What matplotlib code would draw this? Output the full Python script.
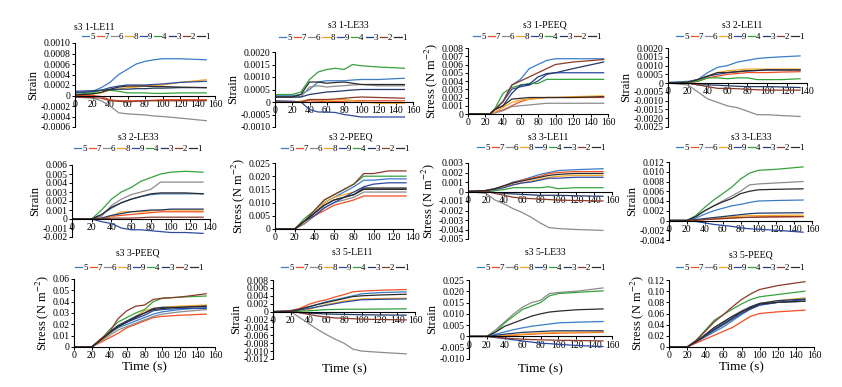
import numpy as np
import matplotlib
matplotlib.use("Agg")
import matplotlib.pyplot as plt
from matplotlib.ticker import FuncFormatter, MultipleLocator

plt.rcParams['font.family'] = ['Liberation Serif', 'DejaVu Serif']
plt.rcParams['mathtext.fontset'] = 'stix'

# legend order and colours of the nine gauges
series = ['5', '7', '6', '8', '9', '4', '3', '2', '1']
colors = ['#3a7dc9', '#f04e23', '#8c8c8c', '#f5a623', '#2e4a9e',
          '#35a23a', '#22396b', '#8b3a2a', '#2b2b2b']

# time samples (s)
t150 = [0, 20, 30, 40, 50, 60, 70, 80, 90, 100, 120, 150]
t133 = [0, 20, 30, 40, 50, 60, 70, 80, 90, 100, 115, 133]
t155 = [0, 25, 30, 40, 50, 60, 70, 80, 90, 100, 120, 155]

# s3 1-LE11 (x1e-4)
s1_le11 = [
    [0.5, 0.8, 1.5, 2.5, 4.0, 5.0, 6.0, 6.5, 6.8, 7.0, 7.0, 6.8],
    [0, 0, -0.2, -0.8, -1.0, -1.0, -1.0, -1.0, -0.9, -0.8, -0.8, -0.8],
    [-0.3, -0.5, -1.0, -2.0, -3.3, -3.5, -3.6, -3.7, -3.9, -4.0, -4.3, -4.8],
    [0.2, 0.3, 0.5, 1.0, 1.2, 1.5, 1.6, 1.8, 1.9, 2.0, 2.5, 3.0],
    [0.5, 0.7, 1.0, 1.5, 1.8, 2.0, 2.0, 2.0, 2.1, 2.2, 2.5, 2.7],
    [0.2, 0.5, 1.0, 1.0, 0.8, 0.5, 0.5, 0.5, 0.4, 0.4, 0.5, 0.5],
    [0.8, 0.9, 1.0, 1.1, 1.2, 1.2, 1.3, 1.3, 1.4, 1.4, 1.5, 1.5],
    [-0.3, -0.4, -0.5, -1.0, -1.1, -1.2, -1.1, -1.0, -1.0, -1.0, -1.0, -1.0],
    [0.1, 0.3, 0.6, 1.2, 1.6, 1.8, 1.8, 1.8, 1.7, 1.7, 1.6, 1.5],
]
# s3 1-LE33 (x1e-4)
s1_le33 = [
    [2.5, 2.5, 3.0, 5.0, 8.0, 8.5, 8.5, 8.5, 8.8, 9.0, 9.0, 9.5],
    [0, 0, 0.2, 0.5, 0.3, 0, 0.2, 0.3, 0.5, 0.5, 0.5, 0.5],
    [2.0, 2.0, 2.0, 6.0, 6.5, 6.0, 6.3, 6.5, 6.8, 7.0, 6.5, 6.5],
    [0, 0, 0.3, 1.0, 0.8, 0.5, 0.8, 1.0, 0.5, 0, -0.5, -0.5],
    [0.5, 0.3, 0, -3.0, -4.0, -4.0, -4.2, -5.0, -5.5, -6.0, -6.0, -6.0],
    [3.0, 3.0, 4.0, 9.0, 12.0, 13.0, 13.5, 13.0, 15.0, 14.5, 14.0, 13.5],
    [2.0, 2.0, 2.0, 3.0, 3.5, 4.0, 4.2, 4.5, 4.8, 5.0, 5.0, 5.0],
    [0, 0, 0, 1.0, 1.0, 1.0, 1.2, 1.5, 1.8, 2.0, 1.8, 1.5],
    [2.0, 2.0, 3.0, 8.0, 8.0, 7.5, 7.8, 8.0, 7.5, 7.0, 7.0, 7.0],
]
# s3 1-PEEQ (x1e-3)
s1_peeq = [
    [0, 0, 0.5, 1.5, 3.5, 4.2, 5.5, 6.0, 6.5, 6.7, 6.7, 6.7],
    [0, 0, 0.2, 0.5, 1.0, 1.5, 1.8, 1.9, 2.0, 2.0, 2.0, 2.0],
    [0, 0, 0.1, 0.4, 0.9, 1.0, 1.1, 1.2, 1.3, 1.3, 1.3, 1.3],
    [0, 0, 0.2, 0.8, 1.4, 1.7, 1.8, 1.9, 2.0, 2.0, 2.1, 2.2],
    [0, 0, 0.5, 1.5, 3.0, 3.3, 3.5, 4.0, 4.8, 5.0, 5.0, 5.0],
    [0, 0, 0.5, 2.5, 3.2, 3.5, 3.7, 3.7, 4.2, 4.2, 4.2, 4.2],
    [0, 0, 0.5, 1.0, 2.5, 3.5, 3.6, 4.5, 4.9, 5.0, 5.5, 6.3],
    [0, 0, 0.5, 1.5, 3.5, 4.0, 4.5, 5.0, 5.5, 6.0, 6.3, 6.6],
    [0, 0, 0.5, 1.0, 1.8, 1.9, 2.0, 2.0, 2.0, 2.0, 2.0, 2.1],
]
# s3 2-LE11 (x1e-4)
s2_le11 = [
    [0.5, 1.0, 2.0, 6.0, 9.0, 10.0, 12.0, 13.0, 14.0, 14.5, 15.0, 15.5],
    [0, 0, 1.0, 3.0, 4.0, 5.0, 5.5, 6.0, 6.0, 6.0, 6.3, 6.5],
    [0, -1.0, -5.0, -9.0, -11.0, -13.0, -14.0, -16.0, -18.0, -18.0, -18.5, -19.0],
    [0, 0.5, 2.0, 4.0, 6.0, 7.0, 7.5, 8.0, 8.0, 8.0, 8.0, 8.0],
    [0, 0.5, 2.0, 4.0, 5.0, 6.0, 6.5, 7.0, 7.2, 7.5, 7.5, 7.5],
    [0, 0.5, 1.0, 3.0, 3.0, 2.5, 3.0, 3.0, 2.0, 2.0, 2.0, 2.5],
    [0, 0, -1.0, -1.0, -1.2, -1.5, -1.8, -2.0, -2.0, -2.0, -2.2, -2.5],
    [0, 0, -1.0, -2.0, -3.0, -3.0, -3.2, -3.5, -3.8, -4.0, -4.0, -4.0],
    [0, 0.5, 2.0, 4.0, 6.0, 6.0, 6.5, 7.0, 7.2, 7.5, 7.5, 7.5],
]
# s3 2-LE33 (x1e-3)
s2_le33 = [
    [0, 0, 0.5, 1.2, 1.8, 2.2, 2.5, 2.7, 2.8, 2.8, 2.8, 2.8],
    [0, 0, 0, 0.3, 0.4, 0.5, 0.6, 0.7, 0.8, 0.8, 0.8, 0.8],
    [0, 0, 0.3, 1.5, 2.2, 2.7, 3.0, 3.3, 4.1, 4.1, 4.1, 4.1],
    [0, 0, 0.1, 0.3, 0.8, 0.8, 0.8, 0.9, 1.0, 1.0, 1.0, 1.0],
    [0, 0, -0.3, -0.5, -1.0, -1.2, -1.2, -1.3, -1.4, -1.5, -1.5, -1.6],
    [0, 0, 1.0, 2.2, 3.0, 3.5, 4.2, 4.6, 5.0, 5.2, 5.3, 5.2],
    [0, 0, 0.1, 0.4, 0.6, 0.8, 0.9, 1.0, 1.0, 1.1, 1.1, 1.1],
    [0, 0, 0, 0.1, 0.1, 0.1, 0.15, 0.2, 0.2, 0.2, 0.2, 0.2],
    [0, 0, 0.5, 1.3, 1.8, 2.2, 2.5, 2.8, 2.9, 2.9, 2.9, 2.8],
]
# s3 2-PEEQ (x1e-3)
s2_peeq = [
    [0, 0, 3.0, 6.0, 10.0, 12.0, 14.0, 16.0, 18.5, 18.5, 19.0, 19.0],
    [0, 0, 2.0, 5.0, 7.0, 9.0, 10.0, 11.0, 12.5, 12.5, 12.5, 12.5],
    [0, 0, 2.0, 5.0, 8.0, 10.0, 11.0, 12.0, 14.0, 14.0, 14.0, 14.0],
    [0, 0, 3.0, 6.0, 10.0, 12.0, 13.0, 14.0, 15.5, 15.5, 15.5, 15.5],
    [0, 0, 3.0, 5.0, 8.0, 10.0, 12.0, 14.0, 16.0, 17.0, 17.5, 17.5],
    [0, 0, 4.0, 7.0, 11.0, 13.0, 15.0, 17.0, 20.0, 20.0, 20.0, 20.0],
    [0, 0, 3.0, 6.0, 9.0, 11.0, 12.0, 13.0, 15.5, 15.5, 15.5, 15.5],
    [0, 0, 3.0, 7.0, 11.0, 13.0, 15.0, 17.0, 21.0, 21.0, 22.0, 22.0],
    [0, 0, 3.0, 6.0, 9.0, 11.0, 12.0, 13.0, 15.0, 15.0, 15.0, 15.0],
]
# s3 3-LE11 (x1e-3)
s3_le11 = [
    [0, 0.1, 0.3, 0.6, 1.0, 1.2, 1.5, 1.8, 2.0, 2.2, 2.3, 2.4],
    [0, 0.1, 0.3, 0.6, 0.9, 1.2, 1.4, 1.6, 1.9, 2.0, 2.1, 2.1],
    [0, -0.2, -0.9, -1.3, -1.8, -2.2, -2.7, -3.3, -3.8, -3.9, -4.0, -4.1],
    [0, 0.1, 0.2, 0.5, 0.7, 0.9, 1.1, 1.3, 1.5, 1.6, 1.7, 1.7],
    [0, 0.1, 0.2, 0.4, 0.7, 0.9, 1.0, 1.2, 1.4, 1.4, 1.5, 1.5],
    [0, 0, 0.1, 0.2, 0.4, 0.4, 0.4, 0.4, 0.5, 0.3, 0.4, 0.4],
    [0, 0, -0.1, -0.2, -0.25, -0.3, -0.35, -0.4, -0.4, -0.4, -0.45, -0.5],
    [0, 0, -0.2, -0.4, -0.6, -0.7, -0.75, -0.8, -0.85, -0.9, -0.95, -1.0],
    [0, 0.1, 0.3, 0.6, 0.9, 1.1, 1.3, 1.5, 1.7, 1.8, 1.9, 1.9],
]
# s3 3-LE33 (x1e-3)
s3_le33 = [
    [0, 0, 0.5, 1.3, 2.0, 2.5, 3.0, 3.3, 3.7, 4.0, 4.1, 4.2],
    [0, 0, 0, 0.2, 0.3, 0.4, 0.5, 0.6, 0.65, 0.7, 0.75, 0.8],
    [0, 0, 0.8, 2.0, 3.0, 4.0, 5.0, 6.0, 7.3, 7.5, 7.7, 8.0],
    [0, 0, 0, 0.2, 0.4, 0.6, 0.75, 0.9, 1.0, 1.0, 1.05, 1.1],
    [0, 0, -0.2, -0.5, -0.8, -1.0, -1.2, -1.5, -1.7, -1.8, -2.0, -2.4],
    [0, 0, 1.0, 2.7, 4.2, 5.5, 6.8, 8.5, 9.7, 10.3, 10.5, 11.0],
    [0, 0, 0.2, 0.4, 0.6, 0.8, 1.0, 1.2, 1.4, 1.5, 1.55, 1.6],
    [0, 0, 0, 0.2, 0.3, 0.4, 0.5, 0.6, 0.65, 0.7, 0.75, 0.8],
    [0, 0, 0.8, 2.0, 3.0, 3.8, 4.5, 5.5, 6.0, 6.3, 6.4, 6.5],
]
# s3 3-PEEQ (x1e-2)
s3_peeq = [
    [0, 0, 0.5, 1.2, 1.7, 2.0, 2.3, 2.6, 2.9, 3.1, 3.3, 3.5],
    [0, 0, 0.4, 0.8, 1.2, 1.7, 2.0, 2.3, 2.6, 2.7, 2.8, 2.9],
    [0, 0, 0.5, 1.0, 1.5, 1.8, 2.1, 2.4, 2.7, 2.9, 3.1, 3.3],
    [0, 0, 0.5, 1.2, 1.8, 2.2, 2.7, 3.2, 3.4, 3.5, 3.6, 3.7],
    [0, 0, 0.6, 1.3, 1.8, 2.2, 2.5, 2.8, 3.2, 3.3, 3.4, 3.4],
    [0, 0, 0.6, 1.5, 2.2, 2.6, 3.0, 3.3, 4.0, 4.3, 4.4, 4.5],
    [0, 0, 0.6, 1.3, 1.9, 2.3, 2.7, 3.0, 3.4, 3.5, 3.5, 3.6],
    [0, 0, 0.7, 1.3, 2.5, 3.2, 3.6, 3.7, 4.2, 4.3, 4.4, 4.7],
    [0, 0, 0.6, 1.2, 1.8, 2.2, 2.6, 3.0, 3.3, 3.4, 3.5, 3.6],
]
# s3 5-LE11 (x1e-3)
s5_le11 = [
    [0, 0.3, 0.6, 1.2, 1.8, 2.5, 3.0, 3.5, 4.0, 4.5, 4.8, 5.0],
    [0, 0.2, 0.8, 1.8, 2.5, 3.0, 3.7, 4.3, 5.0, 5.2, 5.4, 5.6],
    [0, 0, -1.5, -3.0, -4.5, -5.8, -7.0, -8.0, -9.5, -10.0, -10.3, -10.7],
    [0, 0, 0.2, 0.5, 1.2, 1.8, 2.2, 2.7, 3.0, 3.2, 3.3, 3.4],
    [0, 0, 0.4, 0.8, 1.2, 1.6, 2.0, 2.4, 2.7, 3.0, 3.1, 3.2],
    [0, 0, 0.1, 0.2, 0.35, 0.5, 0.55, 0.6, 0.6, 0.6, 0.65, 0.7],
    [0, 0, -0.2, -0.4, -0.5, -0.6, -0.65, -0.7, -0.75, -0.8, -0.85, -0.9],
    [0, 0, -0.3, -0.7, -1.1, -1.4, -1.6, -1.7, -1.8, -1.9, -2.0, -2.1],
    [0, 0.1, 0.6, 1.2, 1.8, 2.3, 2.8, 3.3, 3.8, 4.0, 4.2, 4.4],
]
# s3 5-LE33 (x1e-3)
s5_le33 = [
    [0, 0, 1.0, 2.0, 3.0, 3.8, 4.5, 5.0, 5.5, 6.0, 6.3, 6.6],
    [0, 0, 0, 0.3, 0.5, 0.8, 1.0, 1.2, 1.3, 1.5, 1.6, 1.8],
    [0, 0, 3.0, 6.5, 10.0, 13.0, 15.0, 16.0, 19.0, 19.5, 20.0, 21.5],
    [0, 0, 0, 0.5, 0.7, 1.0, 1.2, 1.5, 1.6, 1.8, 1.9, 2.0],
    [0, 0, -0.5, -1.0, -1.5, -2.0, -2.5, -3.0, -3.2, -3.5, -4.0, -4.5],
    [0, 0, 2.0, 6.0, 9.0, 12.0, 13.5, 15.0, 18.0, 19.0, 19.5, 20.2],
    [0, 0, 0.5, 1.0, 1.4, 1.8, 2.0, 2.2, 2.4, 2.5, 2.5, 2.5],
    [0, 0, -0.3, -0.7, -1.0, -1.2, -1.4, -1.5, -1.6, -1.7, -1.8, -2.0],
    [0, 0, 2.0, 4.5, 6.0, 7.5, 9.0, 10.0, 10.8, 11.2, 11.8, 12.2],
]
# s3 5-PEEQ (x1e-2)
s5_peeq = [
    [0, 0, 0.8, 1.8, 2.7, 3.6, 4.7, 5.8, 6.8, 7.5, 8.0, 8.2],
    [0, 0, 0.7, 1.4, 2.1, 2.8, 3.5, 4.5, 5.5, 6.0, 6.3, 6.6],
    [0, 0, 1.0, 2.2, 3.5, 4.5, 5.5, 6.5, 7.2, 7.8, 8.0, 8.2],
    [0, 0, 0.9, 2.0, 3.0, 4.0, 5.0, 6.2, 7.0, 7.8, 8.3, 8.8],
    [0, 0, 0.9, 2.0, 3.0, 4.0, 5.0, 6.0, 6.8, 7.5, 8.0, 8.5],
    [0, 0, 1.2, 3.0, 4.8, 5.8, 6.8, 7.7, 8.5, 9.0, 9.4, 10.0],
    [0, 0, 1.0, 2.0, 3.2, 4.2, 5.2, 6.3, 7.2, 7.8, 8.3, 8.6],
    [0, 0, 1.2, 2.8, 4.5, 5.8, 7.2, 8.5, 9.5, 10.3, 11.0, 11.7],
    [0, 0, 1.0, 2.2, 3.5, 4.5, 5.5, 6.3, 7.0, 7.7, 8.0, 8.2],
]

STRESS = 'Stress (N m$^{-2}$)'
W, H = 842, 387

# title, time, data, scale, ylim, ystep, decimals, xmax, ylabel,
# axes box px (x0, x1, ytop, ybot), title px (cx, cy), legend px (cx, cy), xlabel
panels = [
    ('s3 1-LE11', t150, s1_le11, 1e-4, (-0.0006, 0.0010), 0.0002, 4, 160, 'Strain',
     (75, 215, 43, 127), (94, 27), (146, 37), False),
    ('s3 1-LE33', t150, s1_le33, 1e-4, (-0.0010, 0.0020), 0.0005, 4, 160, 'Strain',
     (275, 413, 52, 127), (348, 25), (343, 38), False),
    ('s3 1-PEEQ', t155, s1_peeq, 1e-3, (0, 0.008), 0.001, 3, 160, STRESS,
     (468, 608, 48, 114), (545, 25), (537, 37), False),
    ('s3 2-LE11', t133, s2_le11, 1e-4, (-0.0025, 0.0020), 0.0005, 4, 140, 'Strain',
     (668, 807, 48, 127), (742, 25), (740, 37), False),
    ('s3 2-LE33', t133, s2_le33, 1e-3, (-0.002, 0.006), 0.001, 3, 140, 'Strain',
     (72, 210, 165, 237), (138, 137), (138, 149), False),
    ('s3 2-PEEQ', t133, s2_peeq, 1e-3, (0, 0.025), 0.005, 3, 140, STRESS,
     (275, 413, 163, 229), (351, 137), (345, 149), False),
    ('s3 3-LE11', t150, s3_le11, 1e-3, (-0.005, 0.003), 0.001, 3, 160, STRESS,
     (468, 612, 163, 239), (548, 138), (541, 148), False),
    ('s3 3-LE33', t150, s3_le33, 1e-3, (-0.004, 0.012), 0.002, 3, 160, 'Strain',
     (669, 812, 162, 240), (751, 137), (740, 148), False),
    ('s3 3-PEEQ', t150, s3_peeq, 1e-2, (0, 0.06), 0.01, 2, 160, STRESS,
     (74, 215, 279, 347), (138, 253), (139, 268), True),
    ('s3 5-LE11', t150, s5_le11, 1e-3, (-0.012, 0.008), 0.002, 3, 160, 'Strain',
     (273, 415, 280, 359), (352, 252), (345, 268), True),
    ('s3 5-LE33', t150, s5_le33, 1e-3, (-0.010, 0.025), 0.005, 3, 160, 'Strain',
     (469, 612, 280, 359), (545, 252), (541, 268), True),
    ('s3 5-PEEQ', t150, s5_peeq, 1e-2, (0, 0.12), 0.02, 2, 160, STRESS,
     (669, 814, 280, 347), (751, 255), (740, 268), True),
]


def make_fmt(dec):
    def f(v, pos):
        if abs(v) < 1e-12:
            return '0'
        return f'{v:.{dec}f}'
    return FuncFormatter(f)


fig = plt.figure(figsize=(W / 100, H / 100), dpi=100)

for (title, t, data, scale, ylim, ystep, dec, xmax, ylabel,
     box, tpos, lpos, xlab) in panels:
    x0, x1, y0, y1 = box
    ax = fig.add_axes([x0 / W, 1 - y1 / H, (x1 - x0) / W, (y1 - y0) / H])
    for name, col, vals in zip(series, colors, data):
        ax.plot(t, np.array(vals) * scale, color=col, lw=0.9, label=name)

    ax.set_xlim(0, xmax)
    ax.set_ylim(*ylim)
    ax.xaxis.set_major_locator(MultipleLocator(20))
    ax.yaxis.set_major_locator(MultipleLocator(ystep))
    ax.yaxis.set_major_formatter(make_fmt(dec))
    ax.spines['top'].set_visible(False)
    ax.spines['right'].set_visible(False)
    ax.spines['bottom'].set_position(('data', 0))
    for s in ('left', 'bottom'):
        ax.spines[s].set_linewidth(0.8)
    ax.tick_params(labelsize=7, length=2, width=0.7, pad=1)
    ax.set_ylabel(ylabel, fontsize=9, labelpad=1)
    if xlab:
        ax.set_xlabel('Time (s)', fontsize=9.5, labelpad=1)
        if ylim[0] < 0:
            ax.xaxis.set_label_coords(0.5, -0.05)

    fig.text(tpos[0] / W, 1 - tpos[1] / H, title, fontsize=7,
             ha='center', va='center')
    ax.legend(loc='center', bbox_to_anchor=(lpos[0] / W, 1 - lpos[1] / H),
              bbox_transform=fig.transFigure, ncol=9, frameon=False,
              fontsize=6.5, handlelength=0.8, handletextpad=0.1,
              columnspacing=0.2, borderpad=0, borderaxespad=0)

fig.savefig('out.png', dpi=100)
